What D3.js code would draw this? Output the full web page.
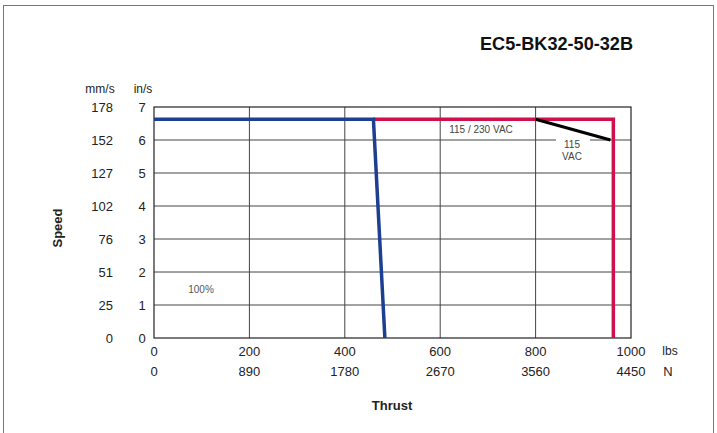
<!DOCTYPE html>
<html><head><meta charset="utf-8">
<script src="https://cdn.jsdelivr.net/npm/d3@7"></script>
<style>body{margin:0;background:#fff}svg{display:block}</style>
</head><body>
<script>
const title = "EC5-BK32-50-32B";
const xTicksLbs = [0, 200, 400, 600, 800, 1000];
const xTicksN = [0, 890, 1780, 2670, 3560, 4450];
const yTicksIn = [0, 1, 2, 3, 4, 5, 6, 7];
const yTicksMm = [0, 25, 51, 76, 102, 127, 152, 178];
// thrust (lbs), speed (in/s)
const blueLbs = [0, 460, 484];
const blueSpeed = [6.63, 6.63, 0];
const redLbs = [460, 963, 963];
const redSpeed = [6.63, 6.63, 0];
const blackLbs = [800, 957];
const blackSpeed = [6.63, 6.0];

const W = 717, H = 433;
const svg = d3.select("body").append("svg").attr("width", W).attr("height", H)
  .style("font-family", "'Liberation Sans', Arial, sans-serif");

svg.append("rect").attr("x", 3.5).attr("y", 5.5).attr("width", 710).attr("height", 440)
  .attr("fill", "none").attr("stroke", "#777").attr("stroke-width", 1);

const x = d3.scaleLinear().domain([0, 1000]).range([154, 631]);
const y = d3.scaleLinear().domain([0, 7]).range([338, 107]);

// grid
const g = svg.append("g");
g.selectAll(".vg").data(xTicksLbs.slice(1, -1)).join("line")
  .attr("x1", d => x(d)).attr("x2", d => x(d)).attr("y1", y(0)).attr("y2", y(7))
  .attr("stroke", "#444").attr("stroke-width", 1);
g.selectAll(".hg").data(yTicksIn.slice(1, -1)).join("line")
  .attr("x1", x(0)).attr("x2", x(1000)).attr("y1", d => y(d)).attr("y2", d => y(d))
  .attr("stroke", "#444").attr("stroke-width", 1);
g.append("rect").attr("x", x(0)).attr("y", y(7)).attr("width", x(1000) - x(0)).attr("height", y(0) - y(7))
  .attr("fill", "none").attr("stroke", "#222").attr("stroke-width", 1.2);

// axes labels
const tickColor = "#222";
svg.selectAll(".ylin").data(yTicksIn).join("text")
  .attr("x", 142).attr("y", d => y(d) + 5).attr("text-anchor", "middle")
  .attr("font-size", 13).attr("fill", tickColor).text(d => d);
svg.selectAll(".ylmm").data(yTicksMm).join("text")
  .attr("x", 113).attr("y", (d, i) => y(yTicksIn[i]) + 5).attr("text-anchor", "end")
  .attr("font-size", 13).attr("fill", tickColor).text(d => d);
svg.append("text").attr("x", 100).attr("y", 93).attr("text-anchor", "middle").attr("font-size", 12).attr("fill", tickColor).text("mm/s");
svg.append("text").attr("x", 143).attr("y", 93).attr("text-anchor", "middle").attr("font-size", 12).attr("fill", tickColor).text("in/s");

svg.selectAll(".xl").data(xTicksLbs).join("text")
  .attr("x", d => x(d)).attr("y", 356).attr("text-anchor", "middle")
  .attr("font-size", 13).attr("fill", tickColor).text(d => d);
svg.selectAll(".xn").data(xTicksN).join("text")
  .attr("x", (d, i) => x(xTicksLbs[i])).attr("y", 376).attr("text-anchor", "middle")
  .attr("font-size", 13).attr("fill", tickColor).text(d => d);
svg.append("text").attr("x", 670).attr("y", 355).attr("text-anchor", "middle").attr("font-size", 12).attr("fill", tickColor).text("lbs");
svg.append("text").attr("x", 668).attr("y", 376).attr("text-anchor", "middle").attr("font-size", 13).attr("fill", tickColor).text("N");

svg.append("text").attr("x", 392).attr("y", 410).attr("text-anchor", "middle").attr("font-size", 13).attr("font-weight", "bold").attr("fill", "#222").text("Thrust");
svg.append("text").attr("transform", "translate(62,228) rotate(-90)").attr("text-anchor", "middle").attr("font-size", 13).attr("font-weight", "bold").attr("fill", "#222").text("Speed");

svg.append("text").attr("x", 633).attr("y", 50).attr("text-anchor", "end").attr("font-size", 19).attr("font-weight", "bold")
  .attr("fill", "#111").attr("textLength", 153).attr("lengthAdjust", "spacingAndGlyphs").text(title);

// lines
const line = d3.line().x(d => x(d[0])).y(d => y(d[1]));
const zip = (a, b) => a.map((v, i) => [v, b[i]]);
svg.append("path").datum(zip(redLbs, redSpeed)).attr("d", line).attr("fill", "none").attr("stroke", "#d0104c").attr("stroke-width", 3.5);
svg.append("path").datum(zip(blueLbs, blueSpeed)).attr("d", line).attr("fill", "none").attr("stroke", "#1d3f91").attr("stroke-width", 3.5);
svg.append("path").datum(zip(blackLbs, blackSpeed)).attr("d", line).attr("fill", "none").attr("stroke", "#000").attr("stroke-width", 3);

// annotations
svg.append("text").attr("x", 481).attr("y", 133).attr("text-anchor", "middle").attr("font-size", 10).attr("fill", "#444").text("115 / 230 VAC");
const bg = svg.append("rect").attr("x", 556).attr("y", 139).attr("width", 34).attr("height", 24).attr("fill", "#fff");
svg.append("text").attr("x", 572).attr("y", 148).attr("text-anchor", "middle").attr("font-size", 10).attr("fill", "#444").text("115");
svg.append("text").attr("x", 572).attr("y", 160).attr("text-anchor", "middle").attr("font-size", 10).attr("fill", "#444").text("VAC");
svg.append("text").attr("x", 201).attr("y", 293).attr("text-anchor", "middle").attr("font-size", 10).attr("fill", "#555").text("100%");
</script>
</body></html>
